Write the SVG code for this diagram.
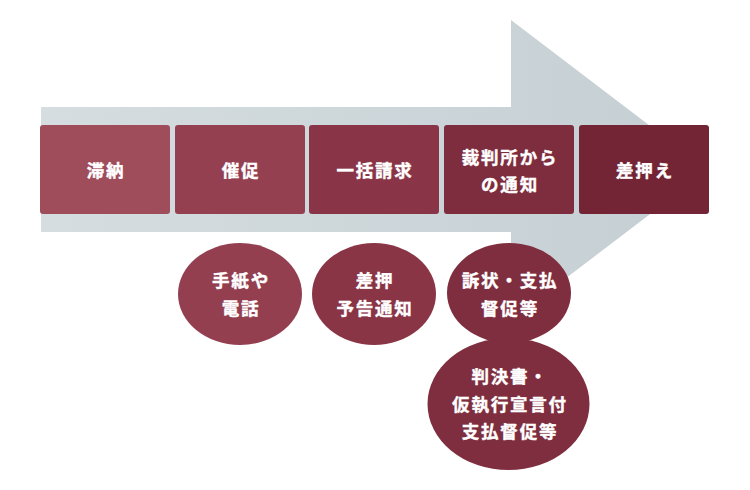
<svg xmlns="http://www.w3.org/2000/svg" width="750" height="490" viewBox="0 0 750 490">
<defs>
<linearGradient id="arrowGrad" x1="0" y1="0" x2="1" y2="0">
<stop offset="0" stop-color="#d5dde0"/>
<stop offset="1" stop-color="#c5cfd3"/>
</linearGradient>
<style>
.t{font-family:"Noto Sans CJK JP","Noto Sans",sans-serif;font-weight:bold;font-size:17.5px;fill:#ffffff;stroke:#ffffff;stroke-width:0.4px;text-anchor:middle;letter-spacing:1.8px}
</style>
</defs>
<rect width="750" height="490" fill="#ffffff"/>
<g id="arrow">
<polygon points="41,107 511,107 511,20 708,170 511,320 511,232 41,232" fill="url(#arrowGrad)"/>
</g>
<g id="node-tainou">
<rect x="40" y="125" width="130" height="89" rx="3" fill="#9f4c5b"/>
<text class="t" x="106" y="177">滞納</text>
</g>
<g id="node-saisoku">
<rect x="175" y="125" width="130" height="89" rx="3" fill="#944051"/>
<text class="t" x="241" y="177">催促</text>
</g>
<g id="node-ikkatsu">
<rect x="309" y="125" width="130" height="89" rx="3" fill="#8a3547"/>
<text class="t" x="375" y="177">一括請求</text>
</g>
<g id="node-saibansho">
<rect x="444" y="125" width="130" height="89" rx="3" fill="#7e2d3e"/>
<text class="t" x="510" y="164">裁判所から</text>
<text class="t" x="510" y="191">の通知</text>
</g>
<g id="node-sashiosae">
<rect x="579" y="125" width="130" height="89" rx="3" fill="#732535"/>
<text class="t" x="645" y="177">差押え</text>
</g>
<g id="node-tegami">
<ellipse cx="240" cy="294" rx="62" ry="51" fill="#933f50"/>
<text class="t" x="241" y="287">手紙や</text>
<text class="t" x="241" y="315">電話</text>
</g>
<g id="node-yokoku">
<ellipse cx="374" cy="294" rx="62" ry="51" fill="#8a3546"/>
<text class="t" x="375" y="287">差押</text>
<text class="t" x="375" y="315">予告通知</text>
</g>
<g id="node-sojo">
<ellipse cx="509" cy="293" rx="62" ry="50" fill="#7f2e3f"/>
<text class="t" x="510" y="287">訴状・支払</text>
<text class="t" x="510" y="315">督促等</text>
</g>
<g id="node-hanketsu">
<ellipse cx="508.5" cy="404" rx="81" ry="66" fill="#7e2e3e"/>
<text class="t" x="510" y="383">判決書・</text>
<text class="t" x="510" y="411">仮執行宣言付</text>
<text class="t" x="510" y="438">支払督促等</text>
</g>
<g id="connectors"></g>
</svg>
